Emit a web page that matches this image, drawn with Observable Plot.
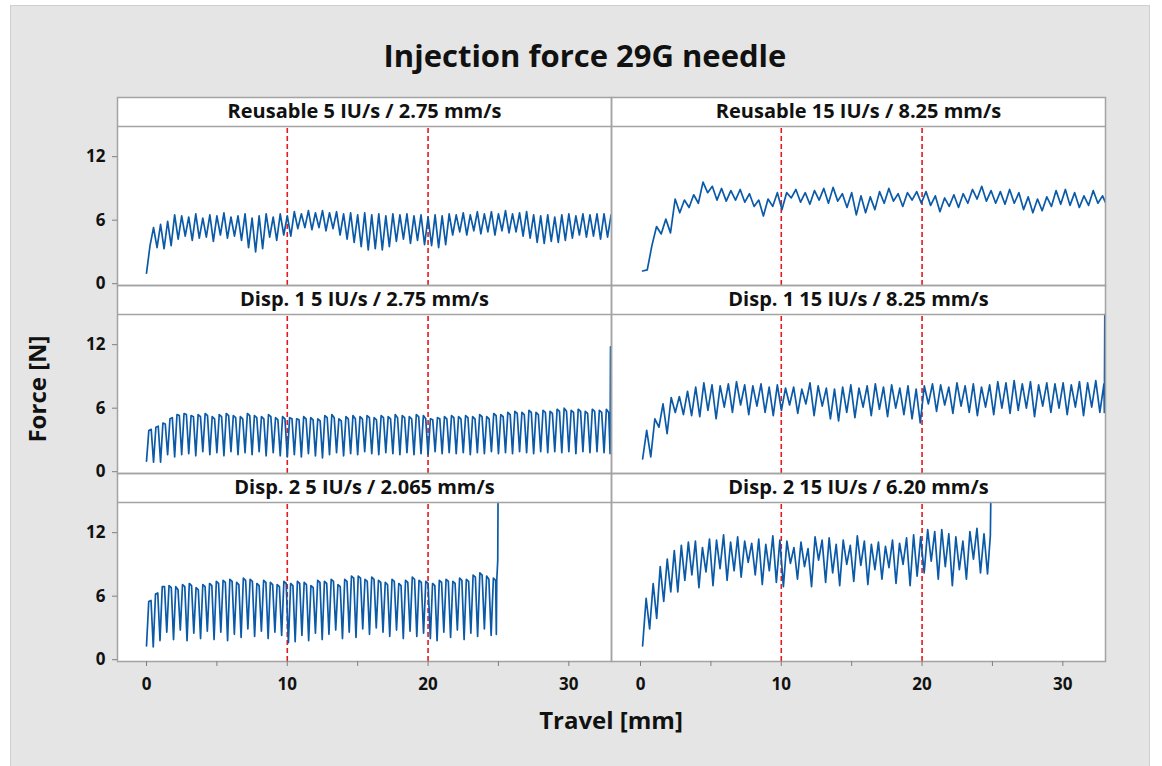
<!DOCTYPE html>
<html>
<head>
<meta charset="utf-8">
<script src="https://cdn.jsdelivr.net/npm/d3@7"></script>
<script src="https://cdn.jsdelivr.net/npm/@observablehq/plot@0.6"></script>
<style>
html,body{margin:0;padding:0;background:#fff;}
body{width:1162px;height:766px;position:relative;overflow:hidden;font-family:"Open Sans",sans-serif;color:#111;}
#bg{position:absolute;left:10px;top:5px;width:1140px;height:780px;background:#e5e5e5;border:1px solid #cfcfcf;box-sizing:border-box;}
#title{position:absolute;left:10px;width:1150px;top:35px;text-align:center;font-weight:700;font-size:31px;line-height:40px;}
#chart{position:absolute;left:0;top:90px;}
#ylab{position:absolute;left:36px;top:389px;transform:translate(-50%,-50%) rotate(-90deg);font-weight:700;font-size:24px;white-space:nowrap;}
#xlab{position:absolute;left:611px;top:719px;transform:translate(-50%,-50%);font-weight:700;font-size:24px;white-space:nowrap;}
</style>
</head>
<body>
<div id="bg"></div>
<div id="title">Injection force 29G needle</div>
<div id="chart"></div>
<div id="ylab">Force [N]</div>
<div id="xlab">Travel [mm]</div>
<script>
// ---- facet layout (device rows, dose-rate columns) ----
const rows = ["Reusable", "Disp. 1", "Disp. 2"];
const cols = ["5 IU/s", "15 IU/s"];
const panelLabels = [
  "Reusable 5 IU/s / 2.75 mm/s", "Reusable 15 IU/s / 8.25 mm/s",
  "Disp. 1 5 IU/s / 2.75 mm/s", "Disp. 1 15 IU/s / 8.25 mm/s",
  "Disp. 2 5 IU/s / 2.065 mm/s", "Disp. 2 15 IU/s / 6.20 mm/s"
];
const panelRow = ["Reusable", "Reusable", "Disp. 1", "Disp. 1", "Disp. 2", "Disp. 2"];
const panelCol = ["5 IU/s", "15 IU/s", "5 IU/s", "15 IU/s", "5 IU/s", "15 IU/s"];

// ---- reference lines & ticks (mm / N) ----
const refTravel = [10, 20];
const xTicks = [0, 10, 20, 30];
const xMinorTicks = [5, 15, 25];
const yTicks = [0, 6, 12];
const xDomain = [-2.06, 33.03];
const yDomain = [-0.17, 14.85];

// ---- force traces: sampled at constant travel step (start, step in mm) ----
const reusable5Start = 0, reusable5Step = 0.25;
const reusable5Force = [1.0,3.6,5.3,3.4,5.6,3.3,5.9,3.6,6.5,4.2,
 6.4,4.5,6.3,4.1,6.6,4.3,6.2,4.4,6.5,4.0,
 6.4,4.6,6.7,4.3,6.3,4.5,6.4,4.1,6.6,3.4,
 6.2,3.0,6.4,3.3,6.6,4.4,6.3,4.1,6.6,4.6,
 6.4,4.5,6.8,5.2,6.6,5.3,6.9,5.1,6.7,5.3,
 6.9,5.0,6.7,5.2,6.8,4.6,6.6,4.2,6.7,3.9,
 6.5,3.5,6.7,3.2,6.5,3.3,6.6,3.2,6.4,3.5,
 6.6,4.0,6.5,4.2,6.6,3.8,6.4,4.1,6.5,3.7,
 6.3,3.6,6.5,3.4,6.4,3.7,6.6,4.6,6.5,4.9,
 6.7,4.6,6.5,5.0,6.8,4.7,6.6,4.9,6.8,4.6,
 6.6,5.0,6.9,4.8,6.6,4.9,6.7,4.5,6.8,4.3,
 6.5,3.9,6.4,3.8,6.5,4.0,6.3,3.9,6.5,4.1,
 6.6,4.3,6.4,4.6,6.6,4.4,6.5,4.5,6.6,4.2,
 6.6,4.4,6.5,5.2];
const reusable5TailTravel = [], reusable5TailForce = [];

const reusable15Start = 0.15, reusable15Step = 0.33;
const reusable15Force = [1.2,1.3,3.6,5.4,4.7,6.1,4.8,8.0,6.7,7.9,
 7.2,8.4,7.6,9.6,8.6,9.2,7.9,9.0,7.8,8.8,
 7.9,8.9,7.7,8.5,7.3,7.9,6.4,8.0,7.3,8.6,
 7.0,8.6,8.1,8.9,7.7,8.6,7.5,8.8,7.9,9.0,
 7.6,9.1,7.8,8.5,7.2,8.6,6.5,8.3,6.7,8.2,
 7.0,8.7,7.6,9.0,7.8,8.5,7.3,8.6,7.9,8.7,
 7.6,8.7,7.4,8.3,6.8,8.1,7.3,8.4,7.2,8.5,
 7.6,8.9,8.0,9.2,7.8,8.8,7.6,8.7,7.5,8.9,
 7.6,8.6,7.0,8.2,6.7,8.0,6.9,8.2,7.3,8.8,
 7.5,8.9,7.4,8.6,7.2,8.3,7.4,8.8,7.6,8.3,
 7.3];
const reusable15TailTravel = [], reusable15TailForce = [];

const disp1_5Start = 0, disp1_5Step = 1 / 6;
const disp1_5Force = [1.0,3.9,4.0, 0.9,4.2,4.3, 0.9,4.6,4.5, 1.6,5.0,5.1, 1.4,5.4,5.3,
 1.6,5.5,5.4, 1.7,5.3,5.2, 1.5,5.4,5.2, 1.9,5.5,5.3, 1.6,5.2,5.0,
 1.8,5.4,5.2, 1.5,5.5,5.3, 1.9,5.3,5.1, 1.6,5.2,5.0, 1.8,5.5,5.3,
 1.6,5.3,5.1, 1.9,5.2,5.0, 1.5,5.4,5.2, 1.8,5.1,4.9, 1.5,5.2,5.0,
 1.4,5.1,5.0, 1.6,5.0,4.9, 1.4,5.2,5.0, 1.7,5.1,4.9, 1.5,5.0,4.8,
 1.3,5.3,5.1, 1.6,5.4,5.1, 1.8,5.0,4.8, 1.5,5.2,5.0, 1.7,5.3,5.0,
 1.6,5.2,5.0, 1.9,5.3,5.1, 1.7,5.1,4.9, 1.6,5.3,5.1, 1.8,5.2,5.0,
 1.7,5.4,5.1, 1.6,5.3,5.1, 1.8,5.2,5.0, 1.6,5.4,5.2, 1.7,5.3,5.0,
 1.6,5.0,4.9, 1.9,5.1,5.0, 1.7,5.2,5.0, 1.8,5.3,5.1, 1.7,5.2,5.0,
 1.8,5.3,5.1, 1.6,5.2,5.0, 1.8,5.4,5.2, 1.7,5.2,5.0, 1.9,5.5,5.3,
 1.7,5.4,5.2, 1.8,5.6,5.4, 1.7,5.7,5.5, 1.9,5.6,5.4, 1.8,5.8,5.6,
 1.7,5.6,5.4, 1.9,5.8,5.6, 1.8,5.7,5.5, 1.9,5.9,5.7, 1.8,6.0,5.7,
 1.9,5.8,5.6, 1.7,5.9,5.7, 1.9,5.7,5.5, 1.8,5.9,5.7, 1.9,5.8,5.6,
 1.8,5.9,5.6];
const disp1_5TailTravel = [32.93, 32.96], disp1_5TailForce = [1.7, 11.8];

const disp1_15Start = 0.15, disp1_15Step = 0.29;
const disp1_15Force = [1.2,3.9,1.4,5.0,4.2,6.4,3.6,7.0,5.6,7.1,
 5.4,7.6,5.3,8.0,5.2,8.4,5.8,8.2,5.0,8.1,
 6.1,8.3,5.6,8.5,6.3,8.2,5.4,8.1,6.2,8.3,
 5.6,8.0,5.3,8.2,5.8,7.9,6.3,8.0,5.5,7.8,
 6.4,8.4,5.3,8.1,6.2,7.9,5.0,7.8,4.8,8.0,
 5.6,8.2,5.1,7.9,6.1,8.1,5.3,8.3,5.9,8.0,
 5.2,8.2,6.0,7.9,5.4,8.1,5.0,7.8,4.6,8.1,
 6.4,8.3,5.7,8.2,6.3,8.0,5.5,8.4,6.2,8.1,
 5.6,8.3,5.3,8.0,6.1,8.2,5.4,8.5,6.0,8.4,
 5.5,8.6,5.8,8.3,6.0,8.5,5.2,8.2,6.2,8.4,
 5.6,8.3,6.0,8.4,5.4,8.2,6.1,8.5,5.3,8.4,
 6.1,8.6,5.6,8.3];
const disp1_15TailTravel = [32.95, 32.98], disp1_15TailForce = [5.6, 14.85];

const disp2_5Start = 0, disp2_5Step = 0.16;
const disp2_5Force = [1.3,5.5,5.6, 1.2,6.2,6.3, 1.8,6.9,6.9, 2.6,7.0,6.8, 1.9,6.9,6.6,
 2.8,7.1,6.9, 1.8,7.2,7.0, 2.5,6.8,6.6, 2.0,7.1,6.9, 2.7,7.2,7.0,
 1.9,7.4,7.2, 2.6,7.5,7.3, 1.8,7.6,7.4, 2.4,7.3,7.1, 2.1,7.7,7.5,
 2.9,7.6,7.4, 2.2,7.2,7.0, 2.7,7.5,7.3, 2.0,7.3,7.1, 2.6,7.1,6.9,
 2.3,7.4,7.2, 1.6,7.2,7.0, 1.7,7.4,7.2, 2.3,7.3,7.1, 1.8,7.0,6.8,
 2.5,7.5,7.3, 1.9,7.4,7.2, 2.4,7.6,7.4, 2.8,7.1,6.9, 2.0,7.6,7.4,
 2.6,7.9,7.7, 2.1,7.9,7.7, 2.9,7.6,7.4, 2.4,7.8,7.6, 3.0,7.5,7.3,
 2.6,7.3,7.1, 2.2,7.6,7.4, 2.8,7.2,7.0, 2.0,7.5,7.3, 2.7,7.8,7.6,
 2.2,7.5,7.3, 2.5,7.4,7.2, 2.0,7.2,7.0, 1.8,7.5,7.3, 2.6,7.6,7.4,
 2.1,7.4,7.2, 2.8,7.7,7.5, 1.9,7.6,7.4, 2.5,8.0,7.8, 2.2,8.2,8.0,
 2.9,7.9,7.6, 2.3,7.7,7.5];
const disp2_5TailTravel = [24.85, 24.88, 24.95, 24.97], disp2_5TailForce = [2.4, 7.5, 9.4, 14.85];

const disp2_15Start = 0.15, disp2_15Step = 0.25;
const disp2_15Force = [1.3,5.8,2.9,7.2,3.9,8.8,5.5,9.5,6.4,10.3,
 6.4,10.8,7.5,11.1,8.0,11.2,6.8,10.6,8.3,11.4,
 7.0,11.3,8.6,11.8,7.5,11.1,8.4,11.6,7.8,11.2,
 9.2,11.0,8.0,11.4,7.1,10.9,8.4,11.7,7.3,11.3,
 6.9,11.2,9.1,10.6,7.6,11.1,8.8,10.5,6.9,11.6,
 9.4,11.3,7.3,11.5,8.2,10.9,7.0,11.3,9.0,10.8,
 7.4,11.7,8.9,11.2,7.1,10.9,8.5,11.1,7.6,10.7,
 8.7,11.3,7.2,11.0,9.0,11.5,7.0,11.8,7.9,11.6,
 8.2,12.3,9.3,12.1,7.6,12.3,8.8,11.9,7.0,11.6,
 8.5,11.2,7.6,12.1,9.5,12.4,8.2,11.9,8.1];
const disp2_15TailTravel = [24.85, 24.88], disp2_15TailForce = [11.7, 14.85];

// ---- assemble tidy table for Plot ----
const series = [
  [reusable5Start, reusable5Step, reusable5Force, reusable5TailTravel, reusable5TailForce],
  [reusable15Start, reusable15Step, reusable15Force, reusable15TailTravel, reusable15TailForce],
  [disp1_5Start, disp1_5Step, disp1_5Force, disp1_5TailTravel, disp1_5TailForce],
  [disp1_15Start, disp1_15Step, disp1_15Force, disp1_15TailTravel, disp1_15TailForce],
  [disp2_5Start, disp2_5Step, disp2_5Force, disp2_5TailTravel, disp2_5TailForce],
  [disp2_15Start, disp2_15Step, disp2_15Force, disp2_15TailTravel, disp2_15TailForce]
];
const data = [];
series.forEach(([start, step, force, tT, tF], p) => {
  force.forEach((f, i) => data.push({row: panelRow[p], col: panelCol[p], travel: start + i * step, force: f}));
  tT.forEach((t, i) => data.push({row: panelRow[p], col: panelCol[p], travel: t, force: tF[i]}));
});
const panelTable = panelLabels.map((label, p) => ({label, row: panelRow[p], col: panelCol[p]}));

const gridColor = "#a3a3a3";
const chart = Plot.plot({
  width: 1162,
  height: 676,
  marginLeft: 117,
  marginRight: 57,
  marginTop: 6,
  marginBottom: 104,
  style: {fontFamily: "'Open Sans', sans-serif", fontSize: "17px", fontWeight: 700, color: "#111", background: "transparent"},
  fx: {domain: cols, axis: null, padding: 0},
  fy: {domain: rows, axis: null, padding: 0},
  x: {domain: xDomain},
  y: {domain: yDomain, insetTop: 29},
  marks: [
    Plot.frame({fill: "white", stroke: "none"}),
    Plot.ruleX(refTravel, {y1: yDomain[0], y2: yDomain[1], stroke: "#e3191c", strokeWidth: 1.6, strokeDasharray: "5,3"}),
    Plot.line(data, {x: "travel", y: "force", fx: "col", fy: "row", stroke: "#0b5aa8", strokeWidth: 1.7, clip: true}),
    Plot.ruleY([yDomain[1]], {stroke: gridColor, strokeWidth: 1.5}),
    Plot.text(panelTable, {fx: "col", fy: "row", text: "label", frameAnchor: "top", lineAnchor: "middle", dy: 14, fontSize: 20, fontWeight: 700, fill: "#111"}),
    Plot.frame({stroke: gridColor, strokeWidth: 1.5}),
    Plot.axisX({ticks: xTicks, tickSize: 5, tickPadding: 11, fontSize: 17, stroke: "#7f7f7f", label: null}),
    Plot.axisX({ticks: xMinorTicks, tickSize: 5, tickFormat: () => "", stroke: "#7f7f7f", label: null}),
    Plot.axisY({ticks: yTicks, tickSize: 5, tickPadding: 7, fontSize: 17, stroke: "#7f7f7f", label: null})
  ]
});
document.getElementById("chart").appendChild(chart);
</script>
</body>
</html>
